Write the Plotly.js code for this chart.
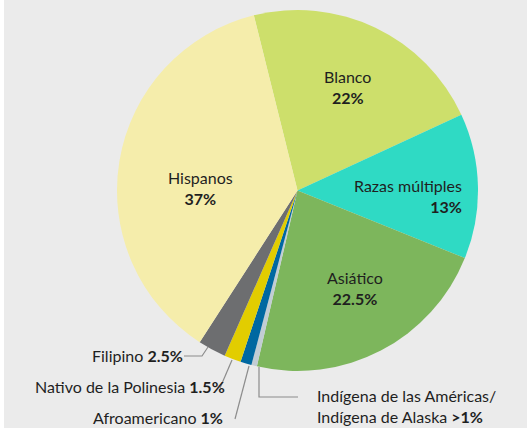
<!DOCTYPE html>
<html>
<head>
<meta charset="utf-8">
<script src="https://cdn.plot.ly/plotly-3.0.1.min.js"></script>
<style>html,body{margin:0;padding:0;background:#ffffff;}#chart{width:527px;height:430px;}</style>
</head>
<body>
<div id="chart"></div>
<script>
const categories = ["Blanco", "Razas múltiples", "Asiático", "Indígena de las Américas/ Indígena de Alaska", "Afroamericano", "Nativo de la Polinesia", "Filipino", "Hispanos"];
const values = [22, 13, 22.5, 0.5, 1, 1.5, 2.5, 37];
const valueLabels = ["22%", "13%", "22.5%", ">1%", "1%", "1.5%", "2.5%", "37%"];
const colors = ["#cddf6b", "#2fdac4", "#7db65c", "#c2cdd4", "#0068a1", "#e2cd00", "#6d6e70", "#f5edab"];

const W = 527, H = 430;
const px = x => x / W;
const py = y => 1 - y / H;
const FONT = "Lato, 'Noto Sans', sans-serif";
const TXT = "#1f1f1f";
const LINE = "#8c8c8c";

const trace = {
  type: "pie",
  labels: categories,
  values: values,
  sort: false,
  direction: "clockwise",
  rotation: -14,
  marker: {colors: colors, line: {width: 0}},
  textinfo: "none",
  hoverinfo: "skip",
  showlegend: false,
  domain: {x: [px(117), px(478)], y: [py(371), py(10)]}
};

function inside(i, x, y, anchor) {
  return {
    xref: "paper", yref: "paper", x: px(x), y: py(y),
    xanchor: anchor || "center", yanchor: "middle", align: anchor === "right" ? "right" : "center",
    showarrow: false,
    text: categories[i] + "<br><b>" + valueLabels[i] + "</b>",
    font: {family: FONT, size: 16, color: TXT}
  };
}
function outside(text, x, y, anchor) {
  return {
    xref: "paper", yref: "paper", x: px(x), y: py(y),
    xanchor: anchor, yanchor: "middle", align: anchor,
    showarrow: false, text: text,
    font: {family: FONT, size: 16, color: TXT}
  };
}
function path(pts) {
  let d = "";
  pts.forEach((p, k) => { d += (k ? " L " : "M ") + px(p[0]) + "," + py(p[1]); });
  return {type: "path", xref: "paper", yref: "paper", path: d, line: {color: LINE, width: 1.2}};
}

const annotations = [
  inside(0, 347, 87),
  inside(7, 200, 188),
  inside(1, 464, 196, "right"),
  inside(2, 355, 288),
  outside(categories[6] + " <b>" + valueLabels[6] + "</b>", 185, 355, "right"),
  outside(categories[5] + " <b>" + valueLabels[5] + "</b>", 227, 386, "right"),
  outside(categories[4] + " <b>" + valueLabels[4] + "</b>", 225, 417, "right"),
  outside("Indígena de las Américas/<br>Indígena de Alaska <b>" + valueLabels[3] + "</b>", 315, 406, "left")
];

const shapes = [
  {type: "rect", xref: "paper", yref: "paper", x0: px(4), x1: 1, y0: py(428), y1: 1, fillcolor: "#ebebeb", line: {width: 0}, layer: "below"},
  path([[208, 347], [202, 356], [184, 356]]),
  path([[232, 360], [220, 388]]),
  path([[249, 366], [235, 419]]),
  path([[259, 367], [259, 397], [298, 397]])
];

const layout = {
  width: W, height: H,
  margin: {l: 0, r: 0, t: 0, b: 0},
  paper_bgcolor: "#ffffff",
  plot_bgcolor: "#ebebeb",
  annotations: annotations,
  shapes: shapes
};

Plotly.newPlot("chart", [trace], layout, {displayModeBar: false, staticPlot: true});
</script>
</body>
</html>
